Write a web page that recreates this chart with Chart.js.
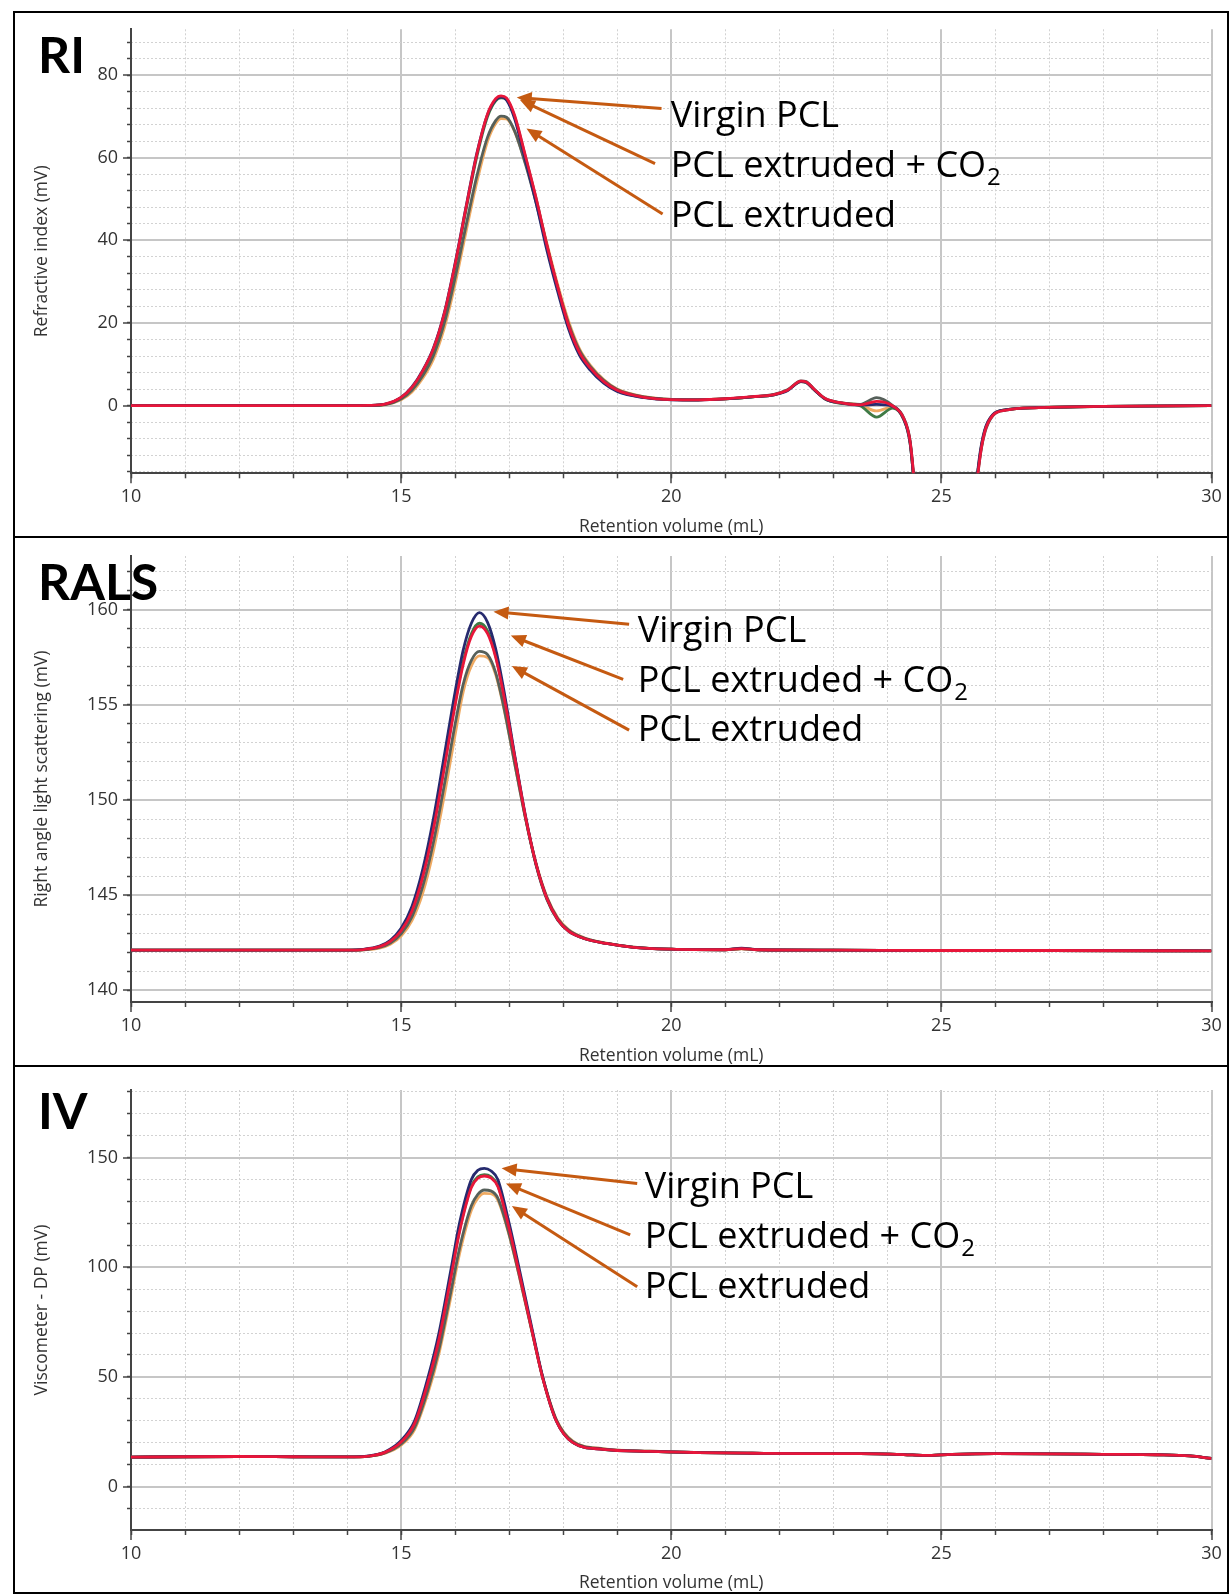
<!DOCTYPE html>
<html>
<head>
<meta charset="utf-8">
<script src="https://cdn.jsdelivr.net/npm/chart.js@4.4.1/dist/chart.umd.min.js"></script>
<style>
  html, body { margin: 0; padding: 0; background: #fff; }
  #page { position: relative; width: 1230px; height: 1595px; overflow: hidden; background: #fff; }
  .panel { position: absolute; left: 13px; width: 1216px; box-sizing: border-box; border: 2px solid #000; }
  .panel canvas { position: absolute; left: 0; top: 0; }
</style>
</head>
<body>
<div id="page">
  <div class="panel" style="top:11px;height:527px"><canvas id="riChart" width="1212" height="523"></canvas></div>
  <div class="panel" style="top:536px;height:531px"><canvas id="ralsChart" width="1212" height="527"></canvas></div>
  <div class="panel" style="top:1065px;height:529px"><canvas id="ivChart" width="1212" height="525"></canvas></div>
</div>
<script>
// Retention volume samples (mL) and detector traces

// --- RI (refractive index, mV)
const riX = [10, 12, 14, 14.4, 14.7, 15.0, 15.2, 15.4, 15.6, 15.8, 16.0, 16.2, 16.4, 16.6, 16.75,
  16.85, 16.95, 17.1, 17.3, 17.5, 17.7, 17.9, 18.1, 18.3, 18.5, 18.75, 19.0, 19.5, 20.0, 20.5,
  21.0, 21.5, 21.9, 22.15, 22.4, 22.5, 22.65, 22.85, 23.1, 23.5, 23.8, 24.1, 24.3, 24.42, 24.5,
  24.7, 25.1, 25.5, 25.6, 25.7, 25.8, 25.95, 26.2, 26.8, 28, 30];
const riVirgin = [0, 0, 0, 0.05, 0.35, 2.0, 4.5, 8.5, 14, 22.5, 34.5, 48, 61, 70.5, 74,
  74.7, 74, 69.5, 59.5, 49, 37.5, 27.5, 18.5, 12.2, 8.6, 5.4, 3.4, 1.9, 1.4, 1.35,
  1.6, 2.1, 2.6, 3.6, 5.8, 5.6, 3.8, 1.6, 0.7, 0.1, 0.3, -0.2, -3.2, -9, -20,
  -60, -95, -60, -27, -13, -6, -2.2, -1.0, -0.5, -0.2, 0];
const riCo2 = [0, 0, 0, 0.05, 0.35, 2.0, 4.4, 8.4, 13.8, 22.3, 34.2, 47.8, 60.8, 70.6, 74.3,
  75.0, 74.5, 70.3, 60.5, 50.2, 38.8, 28.6, 19.4, 12.9, 9.1, 5.8, 3.7, 2.0, 1.45, 1.4,
  1.65, 2.15, 2.65, 3.7, 5.9, 5.7, 3.9, 1.7, 0.75, 0.15, 1.0, -0.1, -3.0, -8.6, -19,
  -58, -95, -62, -28, -14, -6.5, -2.4, -1.1, -0.5, -0.2, 0];
const riCo2b = [0, 0, 0, 0.05, 0.3, 1.9, 4.3, 8.2, 13.5, 22, 33.8, 47.3, 60.2, 70, 73.8,
  74.5, 74.1, 70, 60.2, 50, 38.6, 28.4, 19.3, 12.8, 9.0, 5.7, 3.6, 2.0, 1.45, 1.4,
  1.6, 2.1, 2.6, 3.7, 5.8, 5.6, 3.8, 1.6, 0.6, -0.1, -2.8, -0.6, -3.3, -9, -20,
  -60, -95, -61, -27, -13.5, -6.2, -2.3, -1.0, -0.5, -0.2, 0];
const riExt = [0, 0, 0, 0.03, 0.25, 1.6, 3.7, 7.2, 12.2, 20, 31, 43.5, 55.5, 65, 69,
  70.1, 69.8, 66.5, 58.5, 49, 38.5, 28.5, 19.8, 13.4, 9.5, 6.1, 3.9, 2.1, 1.5, 1.4,
  1.6, 2.1, 2.7, 3.8, 6.0, 5.8, 3.9, 1.7, 0.8, 0.3, 1.9, 0.0, -2.9, -8.4, -19,
  -58, -95, -62, -28, -14, -6.8, -2.5, -1.1, -0.5, -0.2, 0];
const riExtb = [0, 0, 0, 0.02, 0.2, 1.4, 3.3, 6.6, 11.3, 18.8, 29.5, 42, 54, 64, 68.3,
  69.5, 69.4, 66.4, 58.8, 49.5, 39.2, 29.2, 20.4, 13.8, 9.8, 6.3, 4.0, 2.15, 1.5, 1.4,
  1.6, 2.1, 2.6, 3.7, 5.8, 5.6, 3.8, 1.6, 0.7, 0.1, -1.3, -0.3, -3.1, -8.8, -20,
  -60, -95, -61, -27, -13.5, -6.3, -2.3, -1.0, -0.5, -0.2, 0];

// --- RALS (right angle light scattering, mV)
const ralsX = [10, 12, 14, 14.3, 14.6, 14.8, 15.0, 15.2, 15.4, 15.6, 15.8, 16.0, 16.15, 16.3, 16.45,
  16.6, 16.75, 16.9, 17.1, 17.3, 17.5, 17.7, 17.9, 18.1, 18.4, 18.8, 19.3, 20, 21, 21.3,
  21.6, 23, 25, 27, 30];
const ralsVirgin = [142.1, 142.1, 142.1, 142.14, 142.31, 142.62, 143.25, 144.4, 146.35, 149.05, 152.35, 155.7, 157.9, 159.3, 159.86,
  159.35, 157.95, 155.8, 152.4, 149.2, 146.6, 144.8, 143.7, 143.1, 142.7, 142.45, 142.25, 142.15, 142.12, 142.2,
  142.12, 142.1, 142.08, 142.08, 142.06];
const ralsCo2 = [142.1, 142.1, 142.1, 142.13, 142.28, 142.56, 143.12, 144.15, 145.95, 148.5, 151.7, 155.0, 157.15, 158.6, 159.15,
  158.75, 157.5, 155.5, 152.3, 149.15, 146.6, 144.8, 143.7, 143.1, 142.7, 142.45, 142.25, 142.15, 142.12, 142.18,
  142.12, 142.1, 142.08, 142.08, 142.06];
const ralsCo2b = [142.1, 142.1, 142.1, 142.13, 142.29, 142.58, 143.15, 144.2, 146.05, 148.65, 151.85, 155.15, 157.3, 158.75, 159.3,
  158.9, 157.6, 155.55, 152.3, 149.1, 146.55, 144.75, 143.68, 143.1, 142.7, 142.45, 142.25, 142.15, 142.12, 142.18,
  142.12, 142.1, 142.08, 142.08, 142.06];
const ralsExt = [142.1, 142.1, 142.1, 142.12, 142.24, 142.47, 142.95, 143.85, 145.45, 147.8, 150.8, 154.0, 156.1, 157.35, 157.82,
  157.65, 156.7, 154.9, 151.95, 149.05, 146.6, 144.85, 143.75, 143.15, 142.72, 142.46, 142.26, 142.15, 142.12, 142.18,
  142.12, 142.1, 142.08, 142.08, 142.06];
const ralsExtb = [142.1, 142.1, 142.1, 142.11, 142.21, 142.41, 142.84, 143.65, 145.1, 147.35, 150.25, 153.45, 155.7, 157.05, 157.58,
  157.5, 156.6, 154.85, 151.95, 149.1, 146.65, 144.9, 143.8, 143.18, 142.74, 142.47, 142.26, 142.15, 142.12, 142.17,
  142.12, 142.1, 142.08, 142.08, 142.06];

// --- IV (viscometer DP, mV)
const ivX = [10, 11, 12, 13, 14, 14.4, 14.7, 15.0, 15.25, 15.5, 15.7, 15.93, 16.08, 16.3, 16.42,
  16.54, 16.66, 16.79, 17.0, 17.18, 17.44, 17.62, 17.87, 18.18, 18.73, 19.6, 20.5, 21.5, 22.5, 23.5,
  24.3, 24.7, 25.2, 26, 27, 28, 29, 29.6, 30];
const ivVirgin = [13.4, 13.6, 13.7, 13.6, 13.5, 14.0, 15.8, 21, 30, 50, 70, 100, 120, 140, 144.2,
  145.1, 144.0, 140, 120, 100, 70, 50, 30, 20, 17, 16, 15.5, 15.2, 15.0, 15.0,
  14.6, 14.2, 14.7, 15.0, 14.9, 14.7, 14.5, 14.0, 12.8];
const ivCo2 = [13.4, 13.6, 13.7, 13.6, 13.5, 13.9, 15.6, 20.3, 28.8, 47.8, 67, 96.5, 116, 136.3, 140.6,
  141.6, 140.7, 136.8, 117.6, 98, 69, 49.5, 30, 20, 17, 16, 15.5, 15.2, 15.0, 15.0,
  14.6, 14.2, 14.7, 15.0, 14.9, 14.7, 14.5, 14.0, 12.8];
const ivCo2b = [13.4, 13.6, 13.7, 13.6, 13.5, 13.9, 15.6, 20.4, 29.0, 48.2, 67.5, 97.2, 116.8, 137, 141.2,
  142.2, 141.3, 137.3, 118, 98.3, 69.2, 49.6, 30.1, 20.1, 17, 16, 15.5, 15.2, 15.0, 15.0,
  14.6, 14.2, 14.7, 15.0, 14.9, 14.7, 14.5, 14.0, 12.8];
const ivExt = [13.4, 13.6, 13.7, 13.6, 13.5, 13.8, 15.3, 19.4, 27, 44.5, 62.5, 90, 108.5, 128, 133.2,
  135.2, 134.8, 131.5, 115, 96.8, 68.7, 49.8, 30.6, 20.5, 17.2, 16.1, 15.5, 15.2, 15.0, 15.0,
  14.6, 14.2, 14.7, 15.0, 14.9, 14.7, 14.5, 14.0, 12.8];
const ivExtb = [13.4, 13.6, 13.7, 13.6, 13.5, 13.8, 15.2, 18.9, 26, 42.8, 60.5, 87.5, 106, 126, 131.5,
  133.7, 133.5, 130.6, 114.5, 96.6, 68.8, 50, 30.8, 20.7, 17.3, 16.1, 15.5, 15.2, 15.0, 15.0,
  14.6, 14.2, 14.7, 15.0, 14.9, 14.7, 14.5, 14.0, 12.8];

const annotationLines = ['Virgin PCL', 'PCL extruded + CO', 'PCL extruded'];

const traceStyles = [
    { label: 'PCL extruded + CO2', color: '#e8163a' },
    { label: 'Virgin PCL', color: '#262a6e' },
    { label: 'PCL extruded + CO2 (2)', color: '#3f7a45' },
    { label: 'PCL extruded', color: '#56605a' },
    { label: 'PCL extruded (2)', color: '#efaa62' }
];

const ARROW = '#c55a11';
const AXIS_FONT = { family: 'Open Sans', size: 17.5 };
const TICK_FONT = { family: 'Open Sans', size: 18 };

function makeAnnotator(spec) {
    return {
        id: 'annotator',
        afterDatasetsDraw(chart) {
            const { ctx, scales: { x, y } } = chart;
            ctx.save();
            ctx.strokeStyle = ARROW;
            ctx.fillStyle = ARROW;
            ctx.lineWidth = 3;
            spec.arrows.forEach(a => {
                const x1 = x.getPixelForValue(a.from[0]), y1 = y.getPixelForValue(a.from[1]);
                const x2 = x.getPixelForValue(a.to[0]), y2 = y.getPixelForValue(a.to[1]);
                const ang = Math.atan2(y2 - y1, x2 - x1);
                const c = Math.cos(ang), s = Math.sin(ang);
                ctx.beginPath();
                ctx.moveTo(x1, y1);
                ctx.lineTo(x2 - 10 * c, y2 - 10 * s);
                ctx.stroke();
                ctx.beginPath();
                ctx.moveTo(x2, y2);
                ctx.lineTo(x2 - 15 * c + 6.5 * s, y2 - 15 * s - 6.5 * c);
                ctx.lineTo(x2 - 15 * c - 6.5 * s, y2 - 15 * s + 6.5 * c);
                ctx.closePath();
                ctx.fill();
            });
            ctx.fillStyle = '#000';
            ctx.textBaseline = 'alphabetic';
            ctx.textAlign = 'left';
            const tx = x.getPixelForValue(spec.textX);
            annotationLines.forEach((t, i) => {
                const base = y.getPixelForValue(spec.textY[i]) + 13;
                ctx.font = '36px "Open Sans"';
                ctx.fillText(t, tx, base);
                if (i === 1) {
                    const w = ctx.measureText(t).width;
                    ctx.font = '24px "Open Sans"';
                    ctx.fillText('2', tx + w + 1, base + 8);
                }
            });
            ctx.restore();
        },
        afterDraw(chart) {
            const ctx = chart.ctx;
            ctx.save();
            ctx.fillStyle = '#000';
            ctx.font = 'bold 50px Lato';
            ctx.textBaseline = 'alphabetic';
            ctx.fillText(spec.name, 23, spec.nameBase);
            ctx.restore();
        }
    };
}

// ticks only at whole multiples of the step inside the axis range
function stepTicks(step) {
    return scale => {
        const out = [];
        for (let v = Math.ceil(scale.min / step - 1e-9) * step; v <= scale.max + 1e-9; v += step) {
            out.push({ value: Math.round(v * 1000) / 1000 });
        }
        scale.ticks = out;
    };
}

function buildPanel(cfg) {
    const datasets = cfg.series.map((ys, i) => ({
        label: traceStyles[i].label,
        data: cfg.xs.map((x, j) => ({ x: x, y: ys[j] })),
        borderColor: traceStyles[i].color,
        borderWidth: 2.8,
        pointRadius: 0,
        fill: false,
        cubicInterpolationMode: 'monotone',
        xAxisID: 'x',
        yAxisID: 'y'
    }));

    const onStep = (step, v) => Math.abs(v / step - Math.round(v / step)) < 1e-6;

    new Chart(document.getElementById(cfg.canvas), {
        type: 'line',
        data: { datasets },
        options: {
            responsive: false,
            animation: false,
            events: [],
            layout: { padding: { top: cfg.top, right: 15.5, bottom: 0, left: 0 } },
            plugins: { legend: { display: false }, tooltip: { enabled: false } },
            scales: {
                x: {
                    type: 'linear', position: 'bottom', min: 10, max: 30, weight: 1,
                    afterBuildTicks: stepTicks(5),
                    ticks: { color: '#333', font: TICK_FONT, padding: 3, maxRotation: 0, autoSkip: false },
                    grid: { color: '#c6c6c6', lineWidth: 2, tickLength: 10, tickColor: '#444', tickWidth: 1.5 },
                    border: { display: true, color: '#444', width: 2 },
                    title: { display: true, text: 'Retention volume (mL)', color: '#333', font: AXIS_FONT, padding: { top: 0, bottom: -1.5 } },
                    afterFit: s => { s.height = cfg.xh; }
                },
                xMinor: {
                    type: 'linear', position: 'bottom', min: 10, max: 30, weight: 0,
                    afterBuildTicks: stepTicks(1),
                    ticks: { display: false },
                    grid: {
                        color: ctx => (ctx.tick && onStep(5, ctx.tick.value)) ? 'rgba(0,0,0,0)' : '#d2d2d2',
                        lineWidth: 1, tickLength: 5, tickColor: '#444', tickWidth: 1.5
                    },
                    border: { display: false, dash: [2, 2] },
                    afterFit: s => { s.height = 0; }
                },
                y: {
                    type: 'linear', position: 'left', min: cfg.ymin, max: cfg.ymax, weight: 1,
                    afterBuildTicks: stepTicks(cfg.major),
                    ticks: { color: '#333', font: TICK_FONT, padding: 5, autoSkip: false },
                    grid: { color: '#c6c6c6', lineWidth: 2, tickLength: 8, tickColor: '#444', tickWidth: 1.5 },
                    border: { display: true, color: '#444', width: 2 },
                    title: { display: true, text: cfg.ytitle, color: '#333', font: AXIS_FONT, padding: { top: 17, bottom: 0 } },
                    afterFit: s => { s.width = 116; }
                },
                yMinor: {
                    type: 'linear', position: 'left', min: cfg.ymin, max: cfg.ymax, weight: 0,
                    afterBuildTicks: stepTicks(cfg.minor),
                    ticks: { display: false },
                    grid: {
                        color: ctx => (ctx.tick && onStep(cfg.major, ctx.tick.value)) ? 'rgba(0,0,0,0)' : '#d2d2d2',
                        lineWidth: 1, tickLength: 4, tickColor: '#444', tickWidth: 1.5
                    },
                    border: { display: false, dash: [2, 2] },
                    afterFit: s => { s.width = 0; }
                }
            }
        },
        plugins: [makeAnnotator(cfg.notes)]
    });
}

function build() {
    buildPanel({
        canvas: 'riChart', xs: riX,
        series: [riCo2, riVirgin, riCo2b, riExt, riExtb],
        ymin: -16.4, ymax: 91.1, major: 20, minor: 4,
        top: 16.3, xh: 62.7, ytitle: 'Refractive index (mV)',
        notes: {
            name: 'RI', nameBase: 60.4,
            arrows: [
                { from: [19.82, 71.9], to: [17.14, 74.6] },
                { from: [19.70, 58.6], to: [17.20, 74.0] },
                { from: [19.84, 46.4], to: [17.32, 67.1] }
            ],
            textX: 19.99, textY: [70.6, 58.5, 46.4]
        }
    });
    buildPanel({
        canvas: 'ralsChart', xs: ralsX,
        series: [ralsCo2, ralsVirgin, ralsCo2b, ralsExt, ralsExtb],
        ymin: 139.37, ymax: 162.84, major: 5, minor: 1,
        top: 18, xh: 63, ytitle: 'Right angle light scattering (mV)',
        notes: {
            name: 'RALS', nameBase: 62.4,
            arrows: [
                { from: [19.22, 159.25], to: [16.71, 159.91] },
                { from: [19.11, 156.35], to: [17.03, 158.65] },
                { from: [19.22, 153.68], to: [17.05, 157.05] }
            ],
            textX: 19.38, textY: [159.02, 156.39, 153.77]
        }
    });
    buildPanel({
        canvas: 'ivChart', xs: ivX,
        series: [ivCo2, ivVirgin, ivCo2b, ivExt, ivExtb],
        ymin: -19.8, ymax: 180.8, major: 50, minor: 10,
        top: 23, xh: 62, ytitle: 'Viscometer - DP (mV)',
        notes: {
            name: 'IV', nameBase: 61.7,
            arrows: [
                { from: [19.37, 138.2], to: [16.86, 145.1] },
                { from: [19.24, 114.7], to: [16.94, 138.2] },
                { from: [19.37, 91.1], to: [17.05, 127.9] }
            ],
            textX: 19.51, textY: [137.3, 114.6, 91.9]
        }
    });
}

const fontLoads = ['18px "Open Sans"', '36px "Open Sans"', 'bold 50px Lato'].map(f => document.fonts.load(f));
Promise.all(fontLoads).then(build, build);
</script>
</body>
</html>
